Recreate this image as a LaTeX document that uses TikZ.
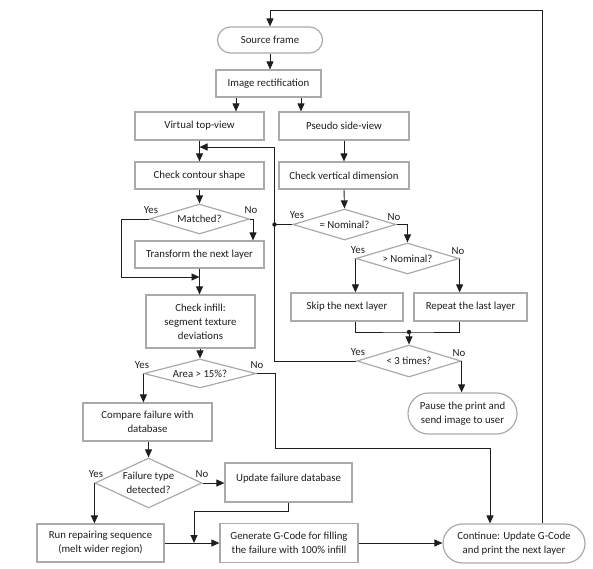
\documentclass[tikz,border=0pt]{standalone}
\usepackage{fontspec}
\setmainfont{Carlito}
\usetikzlibrary{arrows.meta,shapes.geometric,shapes.misc}
\definecolor{boxgray}{RGB}{170,170,170}
\definecolor{linec}{RGB}{30,30,30}
\definecolor{txt}{RGB}{30,30,30}
\begin{document}
\begin{tikzpicture}[x=1pt,y=-1pt,
  every node/.style={text=txt, font=\fontsize{10.8}{14}\selectfont},
  box/.style={draw=boxgray, line width=1.2pt, rectangle, inner sep=0pt, align=center},
  term/.style={draw=boxgray, line width=1.2pt, rounded rectangle, inner sep=0pt, align=center},
  dia/.style={draw=boxgray, line width=1.2pt, diamond, inner sep=0pt},
  dtext/.style={align=center, text=txt, font=\fontsize{10.8}{14}\selectfont},
  lab/.style={inner sep=0pt},
  con/.style={draw=linec, line width=0.9pt},
  arr/.style={con, -{Triangle[length=8pt,width=7pt]}},
  dot/.style={circle, fill=linec, inner sep=0pt, minimum size=4.5pt}]
\useasboundingbox (0,0) rectangle (593,568);

% nodes
\node[term, minimum width=105pt, minimum height=26pt] (src) at (270,40) {Source frame};
\node[box, minimum width=105pt, minimum height=27pt] (rect) at (268.5,83.5) {Image rectification};
\node[box, minimum width=129pt, minimum height=28pt] (vtop) at (199.5,126) {Virtual top-view};
\node[box, minimum width=130pt, minimum height=28pt] (pside) at (344,126) {Pseudo side-view};
\node[box, minimum width=129pt, minimum height=27pt] (contour) at (199.5,175.5) {Check contour shape};
\node[box, minimum width=130pt, minimum height=27pt] (vert) at (344,175.5) {Check vertical dimension};
\node[dia, minimum width=100pt, minimum height=30pt, label={[dtext]center:Matched?}] (matched) at (199.5,219) {};
\node[box, minimum width=129pt, minimum height=27pt] (transform) at (199.5,254.5) {Transform the next layer};
\node[dia, minimum width=103pt, minimum height=31pt, label={[dtext]center:= Nominal?}] (nom) at (344.5,224.5) {};
\node[dia, minimum width=103pt, minimum height=31pt, label={[dtext]center:> Nominal?}] (gnom) at (407.5,258.5) {};
\node[box, minimum width=112pt, minimum height=28pt] (skip) at (347,307) {Skip the next layer};
\node[box, minimum width=113pt, minimum height=28pt] (repeat) at (470.5,307) {Repeat the last layer};
\node[box, minimum width=109pt, minimum height=53pt] (infill) at (200.5,321.5) {Check infill:\\segment texture\\deviations};
\node[dia, minimum width=112pt, minimum height=29pt, label={[dtext]center:Area > 15\%?}] (area) at (200,373.5) {};
\node[dia, minimum width=104pt, minimum height=32pt, label={[dtext]center:< 3 times?}] (less3) at (409,361) {};
\node[term, minimum width=109pt, minimum height=41pt] (pause) at (462.5,413.5) {Pause the print and\\send image to user};
\node[box, minimum width=129pt, minimum height=38pt] (compare) at (147.5,422) {Compare failure with\\database};
\node[dia, minimum width=107pt, minimum height=50pt, label={[dtext]center:Failure type\\detected?}] (ftype) at (148.5,483) {};
\node[box, minimum width=127pt, minimum height=39pt, label={[dtext,yshift=4pt]center:Update failure database}] (update) at (288.5,482.5) {};
\node[box, minimum width=127pt, minimum height=38pt] (run) at (100.5,543) {Run repairing sequence\\(melt wider region)};
\node[box, minimum width=138pt, minimum height=39pt] (gen) at (289,543) {Generate G-Code for filling\\the failure with 100\% infill};
\node[term, minimum width=142pt, minimum height=39pt] (cont) at (514,543.5) {Continue: Update G-Code\\and print the next layer};

% labels
\node[lab] at (151,210) {Yes};
\node[lab] at (251,210) {No};
\node[lab] at (297,215) {Yes};
\node[lab] at (394,217) {No};
\node[lab] at (358,250) {Yes};
\node[lab] at (458,251) {No};
\node[lab] at (358,352) {Yes};
\node[lab] at (459,353) {No};
\node[lab] at (142,365) {Yes};
\node[lab] at (257,365) {No};
\node[lab] at (96,474) {Yes};
\node[lab] at (202,474) {No};

% coordinates
\coordinate (topR) at (542,10);
\coordinate (topL) at (270,10);
\coordinate (j1) at (199.5,277);
\coordinate (mL) at (121,219);
\coordinate (loopB) at (274.5,361);
\coordinate (loopT) at (274.5,147);
\coordinate (cIn) at (199.5,147);
\coordinate (b1) at (275,448);
\coordinate (j2) at (194,543);
\coordinate (mj) at (409,332);

% connectors
\draw[arr] (cont.north -| topR) -- (topR) -- (topL) -- (src.north);
\draw[arr] (src.south) -- (src.south |- rect.north);
\draw[arr] ([xshift=-32.5pt]rect.south) -- ([xshift=-32.5pt]rect.south |- vtop.north);
\draw[arr] ([xshift=32.5pt]rect.south) -- ([xshift=32.5pt]rect.south |- pside.north);
\draw[arr] (vtop.south) -- (contour.north);
\draw[arr] (pside.south) -- (vert.north);
\draw[arr] (contour.south) -- (matched.north);
\draw[arr] (matched.west) -- (mL) |- (j1);
\draw[arr] (matched.east) -| ([xshift=53.5pt]transform.north);
\draw[arr] (transform.south) -- (transform.south |- infill.north);
\draw[arr] (infill.south -| area.north) -- (area.north);
\draw[arr] (area.west) -- (area.west |- compare.north);
\draw[arr] (area.east) -| (b1) -| ([xshift=-24pt]cont.north);
\draw[arr] (ftype.north |- compare.south) -- (ftype.north);
\draw[arr] (ftype.west) -- (ftype.west |- run.north);
\draw[arr] (ftype.east) -- (ftype.east -| update.west);
\draw[arr] (update.south) -- ++(0,9) -| (j2);
\draw[arr] (run.east) -- (gen.west);
\draw[arr] (gen.east) -- (gen.east -| cont.west);
\draw[arr] (vert.south) -- (nom.north);
\draw[arr] (less3.west) -- (loopB) -- (loopT) -- (cIn);
\draw[con] (nom.west) -- (nom.west -| loopB);
\node[dot] at (nom.west -| loopB) {};
\draw[arr] (nom.east) -| (gnom.north);
\draw[arr] (gnom.west) -- (gnom.west |- skip.north);
\draw[arr] (gnom.east) -- (gnom.east |- repeat.north);
\draw[con] (skip.south -| gnom.west) |- (mj) -| (repeat.south -| gnom.east);
\node[dot] at (mj) {};
\draw[arr] (mj) -- (less3.north);
\draw[arr] (less3.east) -- (less3.east |- pause.north);
\end{tikzpicture}
\end{document}
